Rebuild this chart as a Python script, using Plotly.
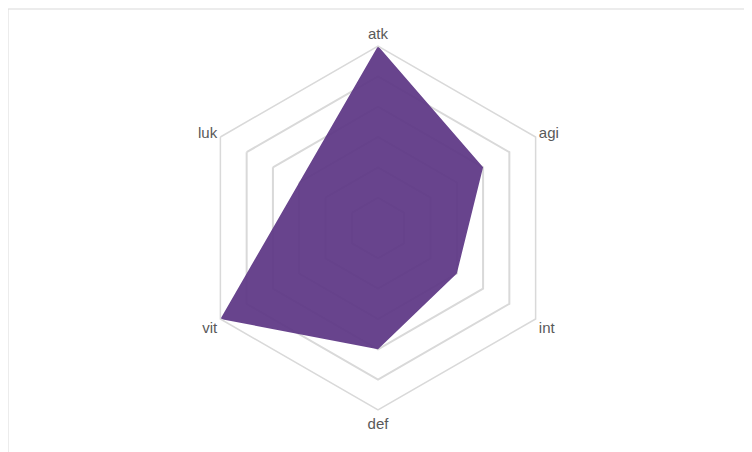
import plotly.graph_objects as go

cats = ["atk", "agi", "int", "def", "vit", "luk"]
vals = [6, 4, 3, 4, 6, 3]

fig = go.Figure()
fig.add_trace(go.Scatterpolar(
    r=vals + vals[:1], theta=cats + cats[:1],
    mode="lines", line=dict(color="rgba(0,0,0,0)", width=0),
    fill="toself", fillcolor="rgba(92,54,132,0.93)",
    hoverinfo="skip"))

fig.update_layout(
    width=752, height=452,
    margin=dict(l=188, r=200, t=38, b=50),
    paper_bgcolor="white",
    showlegend=False,
    font=dict(family="Liberation Sans", size=15, color="#595959"),
    polar=dict(
        bgcolor="white",
        gridshape="linear",
        radialaxis=dict(range=[0, 6], dtick=1, showticklabels=False, ticks="",
                        showline=False, gridcolor="#d9d9d9", gridwidth=1.5),
        angularaxis=dict(rotation=90, direction="clockwise", showline=True,
                         linecolor="#d9d9d9", linewidth=1.5, showgrid=False,
                         ticks="", tickfont=dict(size=15, color="#595959")),
    ),
)
fig.add_shape(type="rect", xref="paper", yref="paper",
              x0=-188/364, x1=1+188/364, y0=-50/364, y1=1+37/364,
              line=dict(color="#d9d9d9", width=1))
fig.write_html("out.html")
